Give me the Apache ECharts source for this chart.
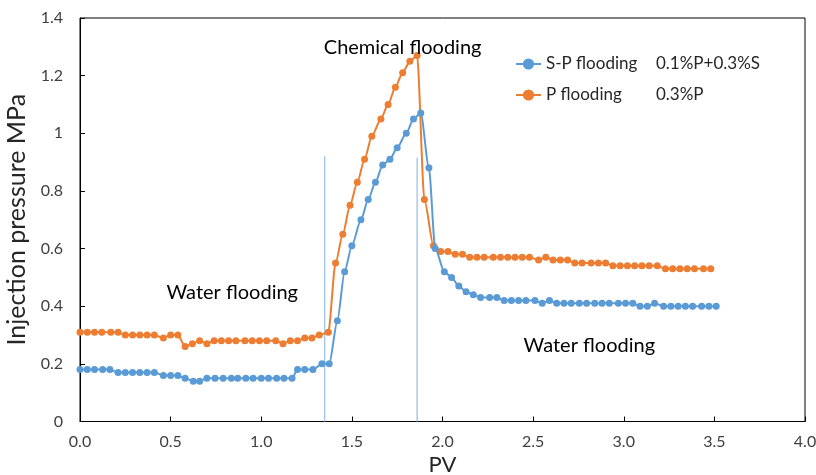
<!DOCTYPE html>
<html>
<head>
<meta charset="utf-8">
<script src="https://cdn.jsdelivr.net/npm/echarts@6/dist/echarts.min.js"></script>
<style>
html,body{margin:0;padding:0;background:#fff;}
#chart{width:816px;height:475px;}
</style>
</head>
<body>
<div id="chart"></div>
<script>
// ---- data ----
const seriesNames = ['S-P flooding', 'P flooding'];
const legendExtra = ['0.1%P+0.3%S', '0.3%P'];

const pvBlue = [0.00,0.04,0.08,0.125,0.165,0.21,0.25,0.29,0.33,0.37,0.41,0.46,0.50,0.54,0.58,0.625,0.66,0.70,0.745,0.79,0.835,0.87,0.915,0.955,1.00,1.04,1.085,1.125,1.17,1.20,1.24,1.285,1.335,1.375,
  1.42,1.46,1.50,1.55,1.59,1.63,1.67,1.71,1.75,1.80,1.84,1.88,1.925,1.96,2.01,2.05,2.09,2.13,2.17,2.21,2.26,2.30,2.34,2.38,2.42,2.46,2.51,2.55,2.59,2.63,2.67,2.71,2.755,2.795,2.84,2.88,2.92,2.97,3.01,3.05,3.09,3.13,3.17,3.22,3.26,3.30,3.34,3.38,3.43,3.47,3.51];
const pressureBlue = [0.18,0.18,0.18,0.18,0.18,0.17,0.17,0.17,0.17,0.17,0.17,0.16,0.16,0.16,0.15,0.14,0.14,0.15,0.15,0.15,0.15,0.15,0.15,0.15,0.15,0.15,0.15,0.15,0.15,0.18,0.18,0.18,0.20,0.20,
  0.35,0.52,0.61,0.70,0.77,0.83,0.89,0.91,0.95,1.00,1.05,1.07,0.88,0.60,0.52,0.50,0.47,0.45,0.44,0.43,0.43,0.43,0.42,0.42,0.42,0.42,0.42,0.41,0.42,0.41,0.41,0.41,0.41,0.41,0.41,0.41,0.41,0.41,0.41,0.41,0.40,0.40,0.41,0.40,0.40,0.40,0.40,0.40,0.40,0.40,0.40];

const pvOrange = [0.00,0.04,0.08,0.12,0.17,0.21,0.25,0.29,0.33,0.37,0.41,0.46,0.50,0.54,0.58,0.62,0.66,0.70,0.74,0.78,0.82,0.86,0.91,0.95,0.99,1.03,1.08,1.12,1.16,1.20,1.24,1.28,1.32,1.37,
  1.41,1.45,1.49,1.53,1.57,1.61,1.66,1.70,1.74,1.78,1.82,1.86,1.90,1.95,1.99,2.03,2.07,2.11,2.15,2.19,2.23,2.28,2.32,2.36,2.40,2.44,2.48,2.53,2.57,2.61,2.65,2.69,2.73,2.77,2.82,2.86,2.90,2.94,2.98,3.02,3.06,3.10,3.14,3.185,3.23,3.27,3.31,3.35,3.39,3.44,3.48];
const pressureOrange = [0.31,0.31,0.31,0.31,0.31,0.31,0.30,0.30,0.30,0.30,0.30,0.29,0.30,0.30,0.26,0.27,0.28,0.27,0.28,0.28,0.28,0.28,0.28,0.28,0.28,0.28,0.28,0.27,0.28,0.28,0.29,0.29,0.30,0.31,
  0.55,0.65,0.75,0.83,0.91,0.99,1.05,1.10,1.16,1.21,1.25,1.27,0.77,0.61,0.59,0.59,0.58,0.58,0.57,0.57,0.57,0.57,0.57,0.57,0.57,0.57,0.57,0.56,0.57,0.56,0.56,0.56,0.55,0.55,0.55,0.55,0.55,0.54,0.54,0.54,0.54,0.54,0.54,0.54,0.53,0.53,0.53,0.53,0.53,0.53,0.53];

// stage boundary lines: [pv, top value]
const boundaryPV = [1.35, 1.86];
const boundaryTop = [0.92, 0.915];

// annotations: [pv, pressure, text]
const annoPV = [1.78, 0.84, 2.81];
const annoP = [1.297, 0.446, 0.262];
const annoText = ['Chemical flooding', 'Water flooding', 'Water flooding'];

const xTicks = [0, 0.5, 1, 1.5, 2, 2.5, 3, 3.5, 4];

// ---- chart ----
const FONT = 'Lato';
const zip = (a, b) => a.map((v, i) => [v, b[i]]);

const chart = echarts.init(document.getElementById('chart'), null, {renderer: 'canvas'});

const boundarySeries = boundaryPV.map((x, i) => ({
  type: 'line', silent: true, symbol: 'none', z: 1,
  lineStyle: {color: '#9dc3e6', width: 1.3},
  data: [[x, 0], [x, boundaryTop[i]]]
}));

const option = {
  animation: false,
  backgroundColor: '#fff',
  textStyle: {fontFamily: FONT},
  grid: {left: 80, right: 11, top: 18, bottom: 53.5, outerBoundsMode: 'none', containLabel: false,
    show: true, borderColor: '#000', borderWidth: 1, backgroundColor: 'transparent'},
  legend: {
    orient: 'vertical', left: 515, top: 55.5, itemGap: 14, padding: 0,
    itemWidth: 25, itemHeight: 14,
    data: seriesNames,
    textStyle: {fontFamily: FONT, fontSize: 17, color: '#262626'}
  },
  xAxis: {
    type: 'value', min: 0, max: 4, interval: 0.5,
    name: 'PV', nameLocation: 'middle', nameGap: 30,
    nameTextStyle: {fontFamily: FONT, fontSize: 22, color: '#262626'},
    axisLine: {lineStyle: {color: '#000', width: 1}},
    axisTick: {inside: true, length: 5, lineStyle: {color: '#000'}},
    axisLabel: {fontFamily: FONT, fontSize: 16, color: '#404040', margin: 12,
      formatter: v => xTicks.includes(+v) ? (+v).toFixed(1) : ''},
    splitLine: {show: false}
  },
  yAxis: {
    type: 'value', min: 0, max: 1.4, interval: 0.2,
    name: 'Injection pressure MPa', nameLocation: 'middle', nameGap: 46,
    nameTextStyle: {fontFamily: FONT, fontSize: 25, color: '#262626'},
    axisLine: {show: true, lineStyle: {color: '#000', width: 1}},
    axisTick: {show: true, inside: true, length: 5, lineStyle: {color: '#000'}},
    axisLabel: {fontFamily: FONT, fontSize: 16, color: '#404040', margin: 17},
    splitLine: {show: false}
  },
  series: [
    ...boundarySeries,
    {
      name: seriesNames[0], type: 'line', z: 3,
      data: zip(pvBlue, pressureBlue),
      smooth: 0.25, smoothMonotone: 'x',
      symbol: 'circle', symbolSize: 7,
      itemStyle: {color: '#5b9bd5'},
      lineStyle: {color: '#5b9bd5', width: 2}
    },
    {
      name: seriesNames[1], type: 'line', z: 2,
      data: zip(pvOrange, pressureOrange),
      smooth: 0.25, smoothMonotone: 'x',
      symbol: 'circle', symbolSize: 7,
      itemStyle: {color: '#ed7d31'},
      lineStyle: {color: '#ed7d31', width: 2}
    }
  ]
};
chart.setOption(option);

// place annotation texts and legend extras using the chart's coordinate system
const graphics = annoText.map((t, i) => {
  const p = chart.convertToPixel({gridIndex: 0}, [annoPV[i], annoP[i]]);
  return {type: 'text', x: p[0], y: p[1], z: 10,
    style: {text: t, fontFamily: FONT, fontSize: 20, fill: '#000', align: 'center', verticalAlign: 'middle'}};
});
legendExtra.forEach((t, i) => {
  graphics.push({type: 'text', x: 656, y: 64 + i * 31, z: 10,
    style: {text: t, fontFamily: FONT, fontSize: 17, fill: '#262626', align: 'left', verticalAlign: 'middle'}});
});
chart.setOption({graphic: graphics});
</script>
</body>
</html>
